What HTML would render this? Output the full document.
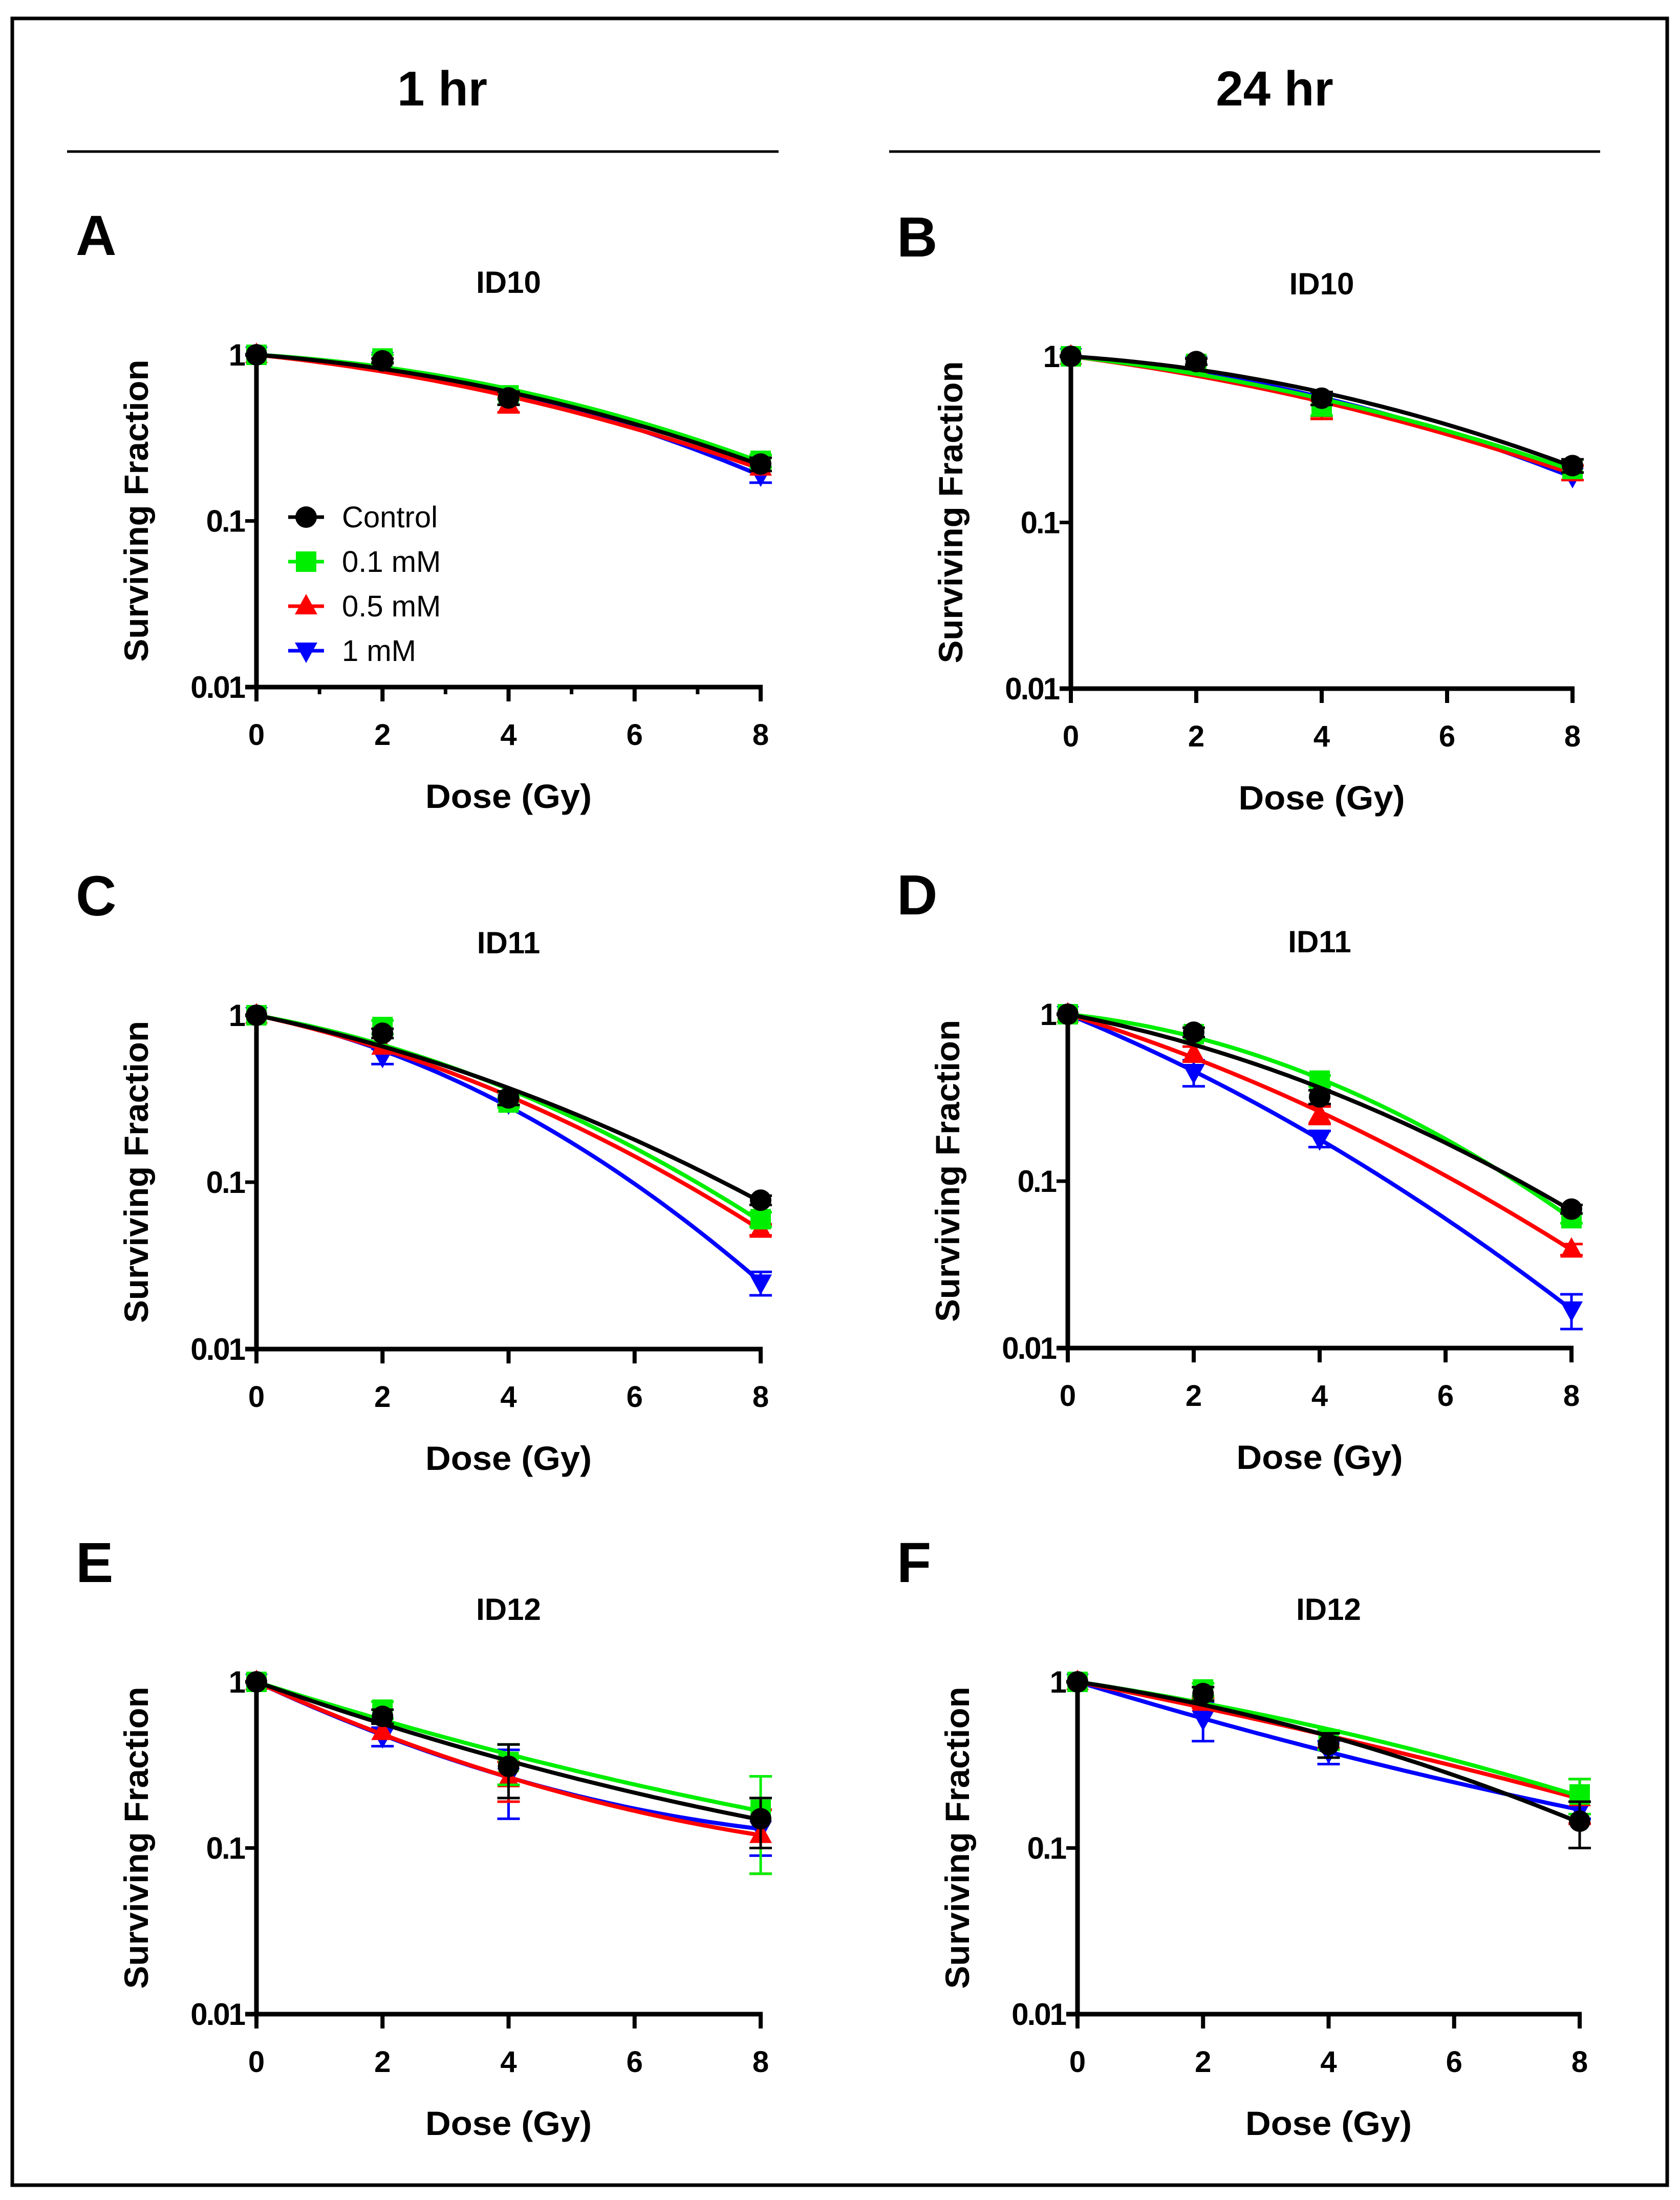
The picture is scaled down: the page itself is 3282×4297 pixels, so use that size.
<!DOCTYPE html>
<html><head><meta charset="utf-8"><style>
html,body{margin:0;padding:0;background:#fff}
svg{display:block}
text{font-family:"Liberation Sans",Arial,sans-serif}
</style></head><body>
<svg id="fig" width="3282" height="4297" viewBox="0 0 3282 4297" xmlns="http://www.w3.org/2000/svg">
<rect x="24" y="36" width="3233" height="4232" fill="none" stroke="#000" stroke-width="7"/>
<text x="864" y="206" font-size="96" font-weight="bold" text-anchor="middle">1 hr</text>
<text x="2490" y="206" font-size="96" font-weight="bold" text-anchor="middle">24 hr</text>
<line x1="131" y1="296" x2="1521" y2="296" stroke="#000" stroke-width="5"/>
<line x1="1737" y1="296" x2="3126" y2="296" stroke="#000" stroke-width="5"/>
<g id="plots"></g>
</svg>
<script>
const doses = [0, 2, 4, 8];
const seriesNames = ["Control", "0.1 mM", "0.5 mM", "1 mM"];
const panelLetters = ["A", "B", "C", "D", "E", "F"];
const panelTitles = ["ID10", "ID10", "ID11", "ID11", "ID12", "ID12"];
const xTickLabels = ["0", "2", "4", "6", "8"];
const yTickValues = [1, 0.1, 0.01];
const yTickLabels = ["1", "0.1", "0.01"];
// surviving fraction per panel, per series (Control, 0.1, 0.5, 1 mM)
const dataA = [[1,0.92,0.55,0.22],[1,0.95,0.57,0.23],[1,0.93,0.50,0.21],[1,0.93,0.55,0.19]];
const dataB = [[1,0.93,0.56,0.22],[1,0.90,0.50,0.21],[1,0.88,0.48,0.20],[1,0.90,0.52,0.19]];
const dataC = [[1,0.78,0.32,0.078],[1,0.85,0.30,0.060],[1,0.65,0.32,0.052],[1,0.57,0.30,0.025]];
const dataD = [[1,0.78,0.32,0.068],[1,0.76,0.40,0.060],[1,0.58,0.25,0.039],[1,0.45,0.18,0.017]];
const dataE = [[1,0.62,0.31,0.15],[1,0.68,0.33,0.17],[1,0.50,0.26,0.12],[1,0.47,0.27,0.13]];
const dataF = [[1,0.85,0.42,0.145],[1,0.90,0.45,0.21],[1,0.75,0.45,0.20],[1,0.60,0.38,0.17]];
// error (SEM) per point
const errA = [[0,0.03,0.05,0.02],[0,0.05,0.03,0.02],[0,0,0.05,0],[0,0,0,0.02]];
const errB = [[0,0.04,0.05,0.02],[0,0,0.06,0],[0,0,0.06,0.02],[0,0,0,0]];
const errC = [[0,0.05,0.03,0.005],[0,0.08,0.02,0.006],[0,0,0,0.004],[0,0.06,0,0.004]];
const errD = [[0,0.05,0.03,0.004],[0,0,0.03,0.004],[0,0.06,0.03,0.003],[0,0.08,0.02,0.004]];
const errE = [[0,0.06,0.11,0.05],[0,0.08,0.09,0.10],[0,0,0.07,0.05],[0,0.06,0.12,0.04]];
const errF = [[0,0.08,0.07,0.045],[0,0.08,0.06,0.05],[0,0.05,0.05,0.06],[0,0.16,0.06,0.02]];
const allData = [dataA, dataB, dataC, dataD, dataE, dataF];
const allErr = [errA, errB, errC, errD, errE, errF];

const colors = ["#000000", "#00ee00", "#ff0000", "#0000ff"];
const shapes = ["circle", "square", "up", "down"];
// layout (x0, x8, yTop(=1), yBottom(=0.01), letter x)
const layout = [
  [501,1486,693,1342,148],[2092,3072,696,1345,1752],
  [501,1486,1983,2635,148],[2086,3070,1981,2633,1752],
  [501,1486,3285,3934,148],[2105,3086,3285,3934,1752]
];
const NS = "http://www.w3.org/2000/svg";
const root = document.getElementById("plots");
function mk(tag, attrs, parent) {
  const e = document.createElementNS(NS, tag);
  for (const k in attrs) e.setAttribute(k, attrs[k]);
  (parent || root).appendChild(e);
  return e;
}
function fitLQ(sf) {
  let s2=0,s3=0,s4=0,r1=0,r2=0;
  for (let i=0;i<doses.length;i++){const d=doses[i],l=Math.log(sf[i]);s2+=d*d;s3+=d*d*d;s4+=d*d*d*d;r1+=d*l;r2+=d*d*l;}
  const det=s2*s4-s3*s3;
  const a=-(r1*s4-r2*s3)/det, b=-(s2*r2-s3*r1)/det;
  return d=>Math.exp(-a*d-b*d*d);
}
function marker(g, shape, cx, cy, col) {
  const r = 20;
  let m;
  if (shape==="circle") m = mk("circle",{cx:cx,cy:cy,r:r+1,fill:col},g);
  else if (shape==="square") m = mk("rect",{x:cx-r,y:cy-r,width:2*r,height:2*r,fill:col},g);
  else if (shape==="up") m = mk("polygon",{points:`${cx},${cy-r*1.2} ${cx+r*1.1},${cy+r*0.8} ${cx-r*1.1},${cy+r*0.8}`,fill:col},g);
  else m = mk("polygon",{points:`${cx},${cy+r*1.2} ${cx+r*1.1},${cy-r*0.8} ${cx-r*1.1},${cy-r*0.8}`,fill:col},g);
  return m;
}
layout.forEach((L, p) => {
  const [x0, x8, yT, yB, lx] = L;
  const g = mk("g", {});
  
  
  const xs = d => x0 + (x8 - x0) * d / 8;
  const ys = v => yT + (yB - yT) * (-Math.log10(v)) / 2;
  const mid = (x0 + x8) / 2;
  const letter = mk("text",{x:lx,y:yT-195,"font-size":110,"font-weight":"bold"},g);
  letter.textContent = panelLetters[p];
  
  
  const title = mk("text",{x:mid,y:yT-121,"font-size":60,"font-weight":"bold","text-anchor":"middle"},g);
  title.textContent = panelTitles[p];
  
  
  // series (drawn in reverse so Control is on top)
  const data = allData[p], err = allErr[p];
  for (let s = data.length - 1; s >= 0; s--) {
    const sf = data[s];
    const sg = mk("g", {}, g);
    
    
    const f = fitLQ(sf);
    let dstr = "";
    for (let k=0;k<=80;k++){const d=k/10;dstr+=(k?"L":"M")+xs(d).toFixed(1)+","+ys(f(d)).toFixed(1);}
    const path = mk("path",{d:dstr,fill:"none",stroke:colors[s],"stroke-width":8},sg);
    
    
    sf.forEach((v,i)=>{
      const e = err[s][i];
      if (e>0) {
        const cx = xs(doses[i]);
        const y1 = ys(v+e), y2 = ys(Math.max(v-e, 0.005));
        const eb = mk("path",{d:`M${cx},${y1}L${cx},${y2}M${cx-22},${y1}L${cx+22},${y1}M${cx-22},${y2}L${cx+22},${y2}`,stroke:colors[s],"stroke-width":5,fill:"none"},sg);
        
        
      }
      const m = marker(sg, shapes[s], xs(doses[i]), ys(v), colors[s]);
      
      
    });
  }
  // axes
  const yax = mk("line",{x1:x0,y1:yT-4,x2:x0,y2:yB+4,stroke:"#000","stroke-width":9},g);
  
  
  const xax = mk("line",{x1:x0-22,y1:yB,x2:x8+4,y2:yB,stroke:"#000","stroke-width":9},g);
  
  
  yTickValues.forEach((v,i)=>{
    const t = mk("line",{x1:x0-22,y1:ys(v),x2:x0,y2:ys(v),stroke:"#000","stroke-width":7},g);
    
    
    const tl = mk("text",{x:x0-24,y:ys(v)+21,"font-size":60,"font-weight":"bold","text-anchor":"end","letter-spacing":-3},g);
    tl.textContent = yTickLabels[i];
    
    
  });
  xTickLabels.forEach((lab)=>{
    const d = +lab;
    const t = mk("line",{x1:xs(d),y1:yB,x2:xs(d),y2:yB+28,stroke:"#000","stroke-width":8},g);
    
    
    const tl = mk("text",{x:xs(d),y:yB+113,"font-size":58,"font-weight":"bold","text-anchor":"middle"},g);
    tl.textContent = lab;
    
    
  });
  if (p===0) for (let d=1; d<8; d+=2) {
    const t = mk("line",{x1:xs(d),y1:yB,x2:xs(d),y2:yB+14,stroke:"#000","stroke-width":7},g);
    
    
  }
  const xt = mk("text",{x:mid,y:yB+236,"font-size":66,"font-weight":"bold","text-anchor":"middle",textLength:325,lengthAdjust:"spacingAndGlyphs"},g);
  xt.textContent = "Dose (Gy)";
  
  
  const ycx = x0 - 212, ycy = (yT + yB) / 2 - 20;
  const yt = mk("text",{x:ycx,y:ycy,"font-size":66,"font-weight":"bold","text-anchor":"middle",textLength:590,lengthAdjust:"spacingAndGlyphs",transform:`rotate(-90 ${ycx} ${ycy})`},g);
  yt.textContent = "Surviving Fraction";
  
  
  if (p===0) {
    const lg = mk("g", {}, g);
    
    
    const ly0 = 1010, ldy = 87;
    seriesNames.forEach((nm, s) => {
      const y = ly0 + s * ldy;
      const eg = mk("g", {}, lg);
      
      
      mk("line",{x1:563,y1:y,x2:633,y2:y,stroke:colors[s],"stroke-width":7},eg);
      marker(eg, shapes[s], 598, y, colors[s]);
      const t = mk("text",{x:668,y:y+20,"font-size":58},eg);
      t.textContent = nm;
    });
  }
});
</script>
</body></html>
